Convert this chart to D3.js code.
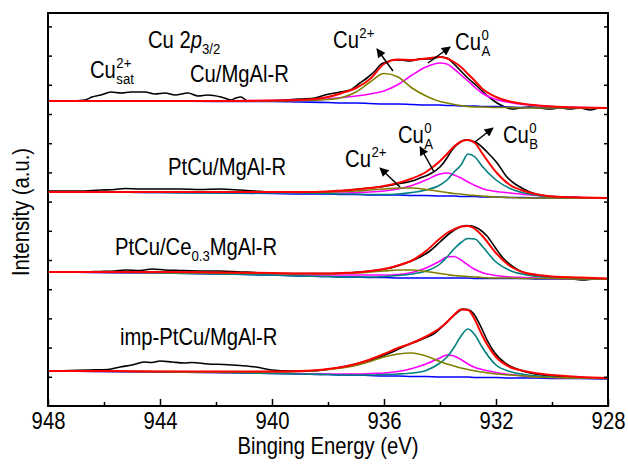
<!DOCTYPE html>
<html><head><meta charset="utf-8">
<script src="https://cdn.jsdelivr.net/npm/d3@7"></script>
<style>
body{margin:0;background:#fff}
svg{display:block}
text{font-family:"Liberation Sans",Arial,sans-serif;fill:#000}
</style>
</head><body>
<svg id="chart" width="628" height="470"></svg>
<script>
// ---------- DATA ----------
// Binding energy grid (eV) for fitted curves
const energy = [948,946,944,942,940,939,938,937.5,937,936.5,936,935.5,935,934.5,934,933.75,933.5,933.25,933,932.75,932.5,932,931.5,931,930.5,930,929,928];
// vertical stacking offsets of the four spectra (a.u.)
const offsets = [305, 214, 134, 35];
const sampleNames = ["Cu/MgAl-R", "PtCu/MgAl-R", "PtCu/Ce0.3MgAl-R", "imp-PtCu/MgAl-R"];
const xMajorTicks = [948,944,940,936,932,928];
const xMinorTicks = [946,942,938,934,930];

// Panel 1: Cu/MgAl-R
const p1Bg  = [0,0,0,-0.5,-0.5,-1,-1.5,-2,-2,-2.5,-3,-3,-3.5,-4,-4,-4.5,-4.5,-5,-5,-5,-5.5,-5.5,-6,-6.5,-6.5,-7,-7,-7];
const p1Cu2 = [0,0,0,0,0,0.5,1.5,3.5,9,19,27.5,24,13,5,-0.5,-2,-3.5,-4.5,-5.5,-6,-6,-6.5,-6.5,-7,-7,-7,-7,-7];
const p1CuA = [0,0,0,0,0.5,1,2,3.5,5,7,10,16.5,26,34,38,37,32,26,20,13.5,8,1.5,-1.5,-3.5,-4.5,-5.5,-6.5,-7];
const p1Fit = [0,0,0,0,0.5,1,4,8,13,22,37,41.5,41,42.5,44,42.5,39,34,27,20,12.5,4,-0.5,-3,-4.5,-5.5,-6.5,-7];
const p1RawE = [948,947.21,946.68,946.43,946.11,945.75,945.39,945.04,944.54,944.18,943.82,943.46,943,942.64,942.29,941.82,941.46,941.29,941.11,940.86,940.25,939.54,939,938.46,938.11,937.57,937.21,936.86,936.61,936.32,936.14,935.89,935.68,935.43,935.07,934.71,934.36,934,933.75,933.54,933.29,932.93,932.68,932.46,932.21,931.96,931.68,931.43,931.14,930.79,930.43,930.07,929.71,929.36,929,928.64,928.29,928];
const p1RawI = [0,0,1,4,6,9,8,9,9,7,8,6,8,5,6,4,1,3,4,0,0,1,2,3,6,9,11,18,23,30,36,39,41,41,40,42,42,44,43,38,31,21,15,9,3,-2,-6,-8,-7,-6,-7,-8,-7,-8,-7,-9,-7,-7];

// Panel 2: PtCu/MgAl-R
const p2Bg  = [0,0,-0.5,-1,-1.5,-2,-2,-2.5,-2.5,-3,-3,-3,-3.5,-3.5,-4,-4,-4,-4.5,-4.5,-4.5,-5,-5,-5.5,-5.5,-6,-6,-6,-6];
const p2Cu2 = [0,0,0,0,0,0,0,0.5,1,2,3,4,4,2.5,0.5,-0.5,-1.5,-2,-3,-3.5,-4,-5,-5.5,-6,-6,-6,-6,-6];
const p2CuA = [0,0,0,0,-0.5,-1,-1,-1,-0.5,0,1,3,6.5,12,18,19,17,14,10,6.5,3.5,0.5,-1,-2.5,-3.5,-4.5,-5.5,-6];
const p2CuB = [0,0,-0.5,-1,-1,-1,-1.5,-2,-2,-2.5,-2.5,-2,-0.5,2,7,12,20,27,38,35,26,12,3.5,-1,-3.5,-5,-6,-6];
const p2Fit = [0,0,0,0,0,0,0.5,1.5,2.5,4,6,9,13.5,20,31,38,45.5,50.5,52,49,39,20,7,1,-2.5,-4.5,-5.5,-6];
const p2RawE = [948,946.86,946.14,945.61,945.25,944.71,944,943.29,942.57,941.86,941.14,940.61,940.07,939,937.93,937.21,936.68,936.14,935.71,935.43,935,934.71,934.36,934,933.75,933.57,933.36,933.11,932.93,932.68,932.32,931.96,931.61,931.32,931.14,930.79,930.43,929.89,929.25,928.64,928];
const p2RawI = [1,1,2,2.5,3.5,3,3,3,2.5,3,2,1,0,0,0.5,2,3.5,5,7,8.5,11,14,18,25,34,42,48,52,51.5,49,40,29,15,8,5,0,-3,-4.5,-5,-6,-6];

// Panel 3: PtCu/Ce0.3MgAl-R
const p3Bg  = [0,-0.5,-1,-2,-3,-4,-4.5,-5,-5,-5.5,-5.5,-6,-6,-6,-6,-6,-6,-6,-6,-6.5,-6.5,-6.5,-6.5,-6.5,-7,-7,-7,-7];
const p3Cu2 = [0,0,-0.5,-1,-1.5,-2,-2,-1.5,-1,0,1,2,2,0.5,-1.5,-2.5,-3.5,-4,-4.5,-5,-5.5,-6,-6,-6.5,-6.5,-6.5,-7,-7];
const p3CuA = [0,-0.5,-1,-1.5,-2,-2.5,-3,-3,-3,-3,-3,-2.5,-0.5,4,11,15,15.5,12,7,2.5,-0.5,-3.5,-5,-5.5,-6,-6.5,-6.5,-7];
const p3CuB = [0,-0.5,-1,-2,-3,-4,-4.5,-5,-5,-5,-4.5,-3.5,-2,1,8,15,23,29.5,33.5,33,26,10,1.5,-2.5,-4.5,-5.5,-6.5,-7];
const p3Fit = [0,0,0,-0.5,-1,-1.5,-1.5,-1,-0.5,1,3,6.5,11.5,21,33.5,39,42.5,45.5,46,43,36.5,19,6,-0.5,-3,-4.5,-5.5,-6.5];
const p3RawE = [948,946.86,946.14,945.61,945.25,944.71,944.29,943.82,943.29,942.57,941.86,941.14,940.61,940.25,939.36,938.29,937.39,936.86,936.32,935.79,935.43,935.07,934.71,934.36,934,933.64,933.36,933.07,932.86,932.64,932.32,932.04,931.75,931.43,931.14,930.79,930.25,929.71,929.36,928.89,928.46,928];
const p3RawI = [0,0,0.5,1,2,1.5,3,2,1.5,1,1,0,-0.5,-1.5,-1.5,-1.5,-1,0,1.5,4,7,10.5,15,21,30,39,44,46.5,46,43.5,36,25,14,6,1,-2.5,-4.5,-5,-6.5,-8,-7,-7];

// Panel 4: imp-PtCu/MgAl-R
const p4Bg  = [0,-0.5,-1,-1.5,-2.5,-3,-3.5,-4,-4,-4.5,-5,-5,-5.5,-5.5,-6,-6,-6,-6,-6,-6.5,-6.5,-6.5,-7,-7,-7,-7.5,-7.5,-8];
const p4Cu2 = [0,0,-0.5,-1,-1,-0.5,1.5,3,5.5,9.5,14,17,18,15,9.5,7,5,3,1.5,0,-1,-3,-4,-5,-6,-6.5,-7,-7.5];
const p4CuA = [0,-0.5,-1,-1.5,-2,-2.5,-3,-3,-3,-2.5,-2,-0.5,2.5,7,13,16,15,11.5,7,3.5,1.5,-1.5,-3.5,-5,-6,-6.5,-7,-7.5];
const p4CuB = [0,-0.5,-1,-1.5,-2.5,-3,-3.5,-4,-4,-4,-3.5,-3,-2,0.5,8,14,23.5,35,42,36,24,6,-0.5,-3.5,-5,-6,-7,-7.5];
const p4Fit = [0,0,-0.5,-0.5,-0.5,0,2,4,7,11.5,17,23,28,34.5,43,49,56,61.5,61,51,36,14,4,0,-2.5,-4,-6,-7];
const p4RawE = [948,947.21,946.5,945.86,945.43,945,944.57,944.29,944,943.57,943.14,942.86,942.29,941.71,941.14,940.57,940,939.36,938.64,937.93,937.39,936.86,936.32,935.79,935.25,934.89,934.54,934.18,933.82,933.57,933.36,933.18,933,932.79,932.57,932.32,932.04,931.68,931.25,930.79,930.07,929.36,928.64,928];
const p4RawI = [0,0.5,1,1.5,4,6,9,8.5,10,9,8,8.5,7,6.5,5.5,4,1,0,0,2,4.5,8,12,18,25,29,33,38,47,54,59,62,61.5,57,46,31,18,8,2,-2,-5,-6,-7,-7];

// ---------- CHART ----------
const svg = d3.select("#chart");
const x = d3.scaleLinear().domain([948, 928]).range([48, 608]);
const y = d3.scaleLinear().domain([0, 393]).range([406, 13]);

const colors = {raw:"#000000", fit:"#ff0000", bg:"#0000ff", cu2:"#808000", cuA:"#ff00ff", cuB:"#008080"};
const FS = 23, FSS = 15, SX = 0.88;   // font size, script size, horizontal condensing

const panels = [
  {raw:[p1RawE,p1RawI], bg:p1Bg, cu2:p1Cu2, cuA:p1CuA, cuB:null, fit:p1Fit},
  {raw:[p2RawE,p2RawI], bg:p2Bg, cu2:p2Cu2, cuA:p2CuA, cuB:p2CuB, fit:p2Fit},
  {raw:[p3RawE,p3RawI], bg:p3Bg, cu2:p3Cu2, cuA:p3CuA, cuB:p3CuB, fit:p3Fit},
  {raw:[p4RawE,p4RawI], bg:p4Bg, cu2:p4Cu2, cuA:p4CuA, cuB:p4CuB, fit:p4Fit}
];

const line = d3.line().x(d => x(d[0])).y(d => y(d[1])).curve(d3.curveMonotoneX);
const gLines = svg.append("g");

panels.forEach((p, k) => {
  const off = offsets[k];
  const rawPts = p.raw[0].map((e, i) => [e, off + p.raw[1][i]]);
  gLines.append("path").attr("d", line(rawPts)).attr("fill","none")
    .attr("stroke", colors.raw).attr("stroke-width", 1.6);
  ["bg","cuA","cuB","cu2","fit"].forEach(key => {
    const vals = p[key];
    if (!vals) return;
    const pts = energy.map((e, i) => [e, off + vals[i]]);
    gLines.append("path").attr("d", line(pts)).attr("fill","none")
      .attr("stroke", colors[key]).attr("stroke-width", key === "fit" ? 2 : 1.6);
  });
});

// axes
const xAxisMajor = d3.axisBottom(x).tickValues(xMajorTicks).tickSize(-7).tickPadding(7).tickFormat(d3.format("d"));
const xAxisMinor = d3.axisBottom(x).tickValues(xMinorTicks).tickSize(-4).tickFormat("");
const yTicks = d3.range(29.2, 393, 29.2);
const yLeft = d3.axisLeft(y).tickValues(yTicks).tickSize(-4).tickFormat("");
const yRight = d3.axisRight(y).tickValues(yTicks).tickSize(-4).tickFormat("");

function styleAxis(g){
  g.select(".domain").remove();
  g.selectAll(".tick line").attr("stroke","#000").attr("stroke-width",1.5);
  g.selectAll(".tick text").style("font-size",FS+"px")
    .style("font-family",'"Liberation Sans",Arial,sans-serif').attr("fill","#000")
    .attr("transform",`scale(${SX},1)`);
}
svg.append("g").attr("transform","translate(0,406)").call(xAxisMajor).call(styleAxis);
svg.append("g").attr("transform","translate(0,406)").call(xAxisMinor).call(styleAxis);
svg.append("g").attr("transform","translate(48,0)").call(yLeft).call(styleAxis);
svg.append("g").attr("transform","translate(608,0)").call(yRight).call(styleAxis);

svg.append("rect").attr("x",48).attr("y",13).attr("width",560).attr("height",393)
  .attr("fill","none").attr("stroke","#000").attr("stroke-width",2);

// axis titles
svg.append("text").attr("transform",`translate(328,454) scale(${SX},1)`).attr("text-anchor","middle")
  .style("font-size",FS+"px").text("Binging Energy (eV)");
svg.append("text").attr("transform",`translate(29,212) rotate(-90) scale(${SX},1)`).attr("text-anchor","middle")
  .style("font-size",FS+"px").text("Intensity (a.u.)");

// annotations
const gA = svg.append("g");
function label(E, I){
  return gA.append("g").attr("transform",`translate(${x(E)},${y(I)}) scale(${SX},1)`);
}
function chem(E, I, base, sup, sub){
  const g = label(E, I);
  const t = g.append("text").style("font-size",FS+"px").text(base);
  const w = t.node().getComputedTextLength();
  if (sup) g.append("text").attr("x",w+0.5).attr("y",-10).style("font-size",FSS+"px").text(sup);
  if (sub) g.append("text").attr("x",w+0.5).attr("y",6).style("font-size",FSS+"px").text(sub);
}
// title "Cu 2p3/2"
const tt = label(944.43, 358).append("text").style("font-size",FS+"px");
tt.append("tspan").text("Cu 2");
tt.append("tspan").style("font-style","italic").text("p");
tt.append("tspan").attr("dy",6).style("font-size",FSS+"px").text("3/2");

chem(946.5, 328, "Cu", "2+", "sat");
label(942.93, 324).append("text").style("font-size",FS+"px").text(sampleNames[0]);
chem(937.82, 358, "Cu", "2+", null);
chem(933.46, 356, "Cu", "0", "A");

label(943.71, 231).append("text").style("font-size",FS+"px").text(sampleNames[1]);
chem(937.39, 239, "Cu", "2+", null);
chem(935.5, 263, "Cu", "0", "A");
chem(931.75, 263, "Cu", "0", "B");

const t3 = label(945.61, 151).append("text").style("font-size",FS+"px");
t3.append("tspan").text("PtCu/Ce");
t3.append("tspan").attr("dy",6).style("font-size",FSS+"px").text("0.3");
t3.append("tspan").attr("dy",-6).text("MgAl-R");

label(945.43, 61).append("text").style("font-size",FS+"px").text(sampleNames[3]);

// arrows
svg.append("defs").append("marker").attr("id","ah").attr("viewBox","0 0 10 10")
  .attr("refX",9).attr("refY",5).attr("markerWidth",11).attr("markerHeight",9)
  .attr("markerUnits","userSpaceOnUse").attr("orient","auto")
  .append("path").attr("d","M0,0 L10,5 L0,10 z").attr("fill","#000");
const arrows = [
  [935.68,335,936.25,357],
  [934.43,343,933.64,359],
  [935.43,219,936.14,238],
  [934.21,234,934.71,259],
  [932.75,264,932.11,278]
];
arrows.forEach(a => {
  gA.append("line").attr("x1",x(a[0])).attr("y1",y(a[1])).attr("x2",x(a[2])).attr("y2",y(a[3]))
    .attr("stroke","#000").attr("stroke-width",1.5).attr("marker-end","url(#ah)");
});
</script>
</body></html>
